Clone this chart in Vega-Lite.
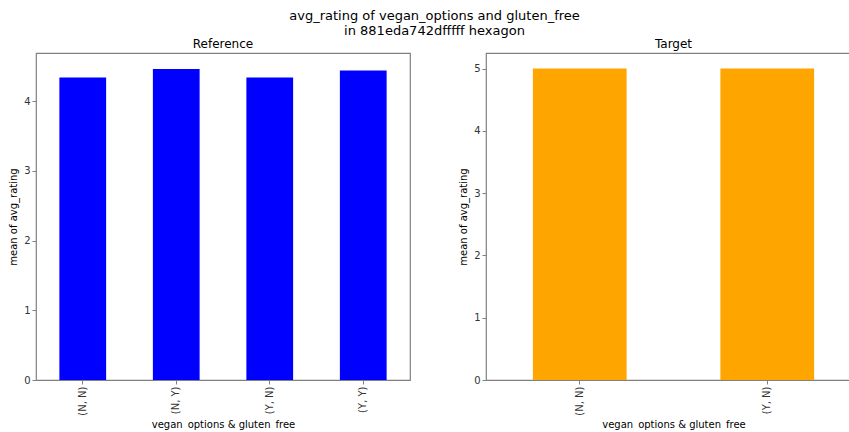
{
  "$schema": "https://vega.github.io/schema/vega-lite/v6.json",
  "padding": {"left": 7, "top": 10, "right": 0, "bottom": 0},
  "background": "white",
  "title": {
    "text": ["avg_rating of vegan_options and gluten_free", "in 881eda742dfffff hexagon"],
    "font": "DejaVu Sans",
    "fontSize": 13,
    "fontWeight": "normal",
    "color": "#000000",
    "anchor": "middle",
    "lineHeight": 15,
    "offset": -1
  },
  "datasets": {
    "reference": [
      {"combo": "(N, N)", "mean_avg_rating": 4.34},
      {"combo": "(N, Y)", "mean_avg_rating": 4.46},
      {"combo": "(Y, N)", "mean_avg_rating": 4.34},
      {"combo": "(Y, Y)", "mean_avg_rating": 4.44}
    ],
    "target": [
      {"combo": "(N, N)", "mean_avg_rating": 5.0},
      {"combo": "(Y, N)", "mean_avg_rating": 5.0}
    ]
  },
  "spacing": 46,
  "hconcat": [
    {
      "title": {"text": "Reference"},
      "data": {"name": "reference"},
      "width": 374,
      "height": 327,
      "mark": {"type": "bar", "color": "#0000ff"},
      "encoding": {
        "x": {
          "field": "combo",
          "type": "nominal",
          "sort": null,
          "title": "vegan_options & gluten_free",
          "scale": {"paddingInner": 0.5, "paddingOuter": 0.25}
        },
        "y": {
          "field": "mean_avg_rating",
          "type": "quantitative",
          "title": "mean of avg_rating",
          "scale": {"domain": [0, 4.69], "nice": false, "zero": true},
          "axis": {"values": [0, 1, 2, 3, 4]}
        }
      }
    },
    {
      "title": {"text": "Target"},
      "data": {"name": "target"},
      "width": 375,
      "height": 327,
      "mark": {"type": "bar", "color": "#ffa500"},
      "encoding": {
        "x": {
          "field": "combo",
          "type": "nominal",
          "sort": null,
          "title": "vegan_options & gluten_free",
          "scale": {"paddingInner": 0.5, "paddingOuter": 0.25}
        },
        "y": {
          "field": "mean_avg_rating",
          "type": "quantitative",
          "title": "mean of avg_rating",
          "scale": {"domain": [0, 5.25], "nice": false, "zero": true},
          "axis": {"values": [0, 1, 2, 3, 4, 5]}
        }
      }
    }
  ],
  "config": {
    "font": "DejaVu Sans",
    "view": {"stroke": "#808080", "strokeWidth": 1.2},
    "title": {"fontSize": 12, "fontWeight": "normal", "color": "#000000", "offset": 2},
    "axis": {
      "domain": false,
      "grid": false,
      "ticks": true,
      "tickColor": "#808080",
      "tickSize": 4,
      "labelFont": "DejaVu Sans",
      "labelFontSize": 10,
      "labelColor": "#333333",
      "labelPadding": 2,
      "titleFont": "DejaVu Sans",
      "titleFontSize": 10,
      "titleFontWeight": "normal",
      "titleColor": "#000000"
    },
    "axisX": {"labelAngle": -90, "titlePadding": 4},
    "axisY": {"minExtent": 13, "maxExtent": 13, "titlePadding": 5}
  }
}
